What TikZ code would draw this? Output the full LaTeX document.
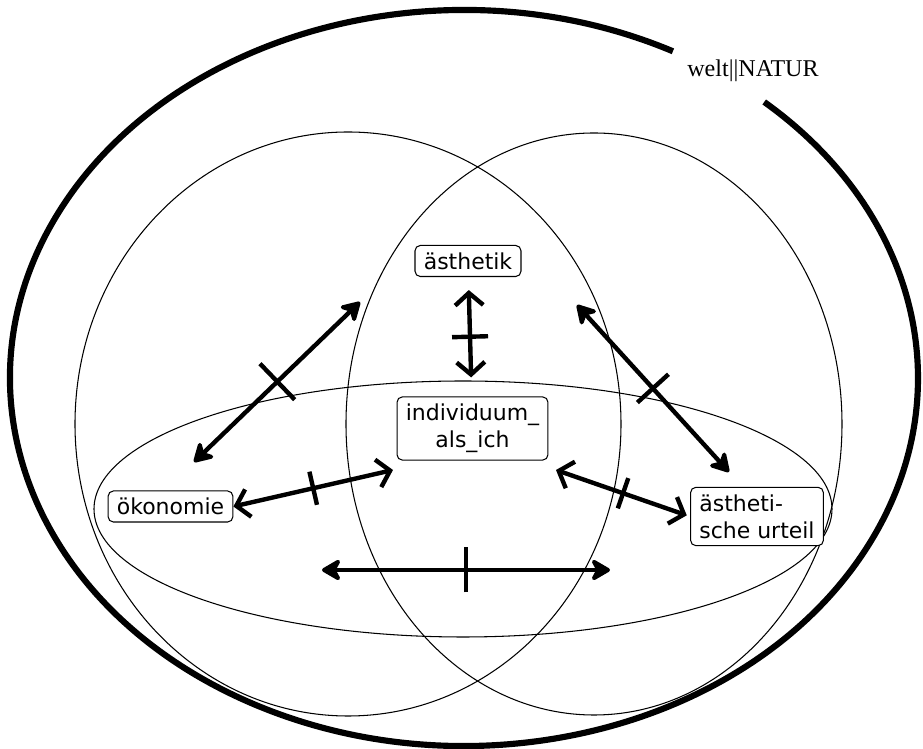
\documentclass[tikz,border=0pt]{standalone}
\usepackage{fontspec}
\setmainfont{DejaVu Sans}
\newfontfamily\weltfont{Liberation Serif}
\usetikzlibrary{arrows.meta,decorations.markings}
\tikzset{
    box/.style={draw, rectangle, rounded corners=3pt, line width=0.6pt, fill=white,
        inner xsep=5pt, inner ysep=4pt, font=\fontsize{12.5}{15.5}\selectfont},
    ring/.style={line width=0.6pt},
    link/.style={line width=2.5pt, >={Stealth[length=13pt,width=15pt,inset=4pt,round]}},
    barb/.style={line width=2.5pt, >={Straight Barb[length=7pt,width=16pt]}},
    crossed/.style={postaction={decorate, decoration={markings,
        mark=at position 0.5 with {\draw[-,line width=2.5pt,shorten <=0pt,shorten >=0pt] (0,-#1) -- (0,#1);}}}},
    crossed/.default=0.4cm
}
\begin{document}
\begin{tikzpicture}
    \useasboundingbox (0,0) rectangle (18.46,14.98);
    \draw[line width=3.5pt] (9.28,7.42) ++(62.6:9.08 and 7.36)
        arc[start angle=62.6, end angle=408.6, x radius=9.08, y radius=7.36];
    \draw[ring] (6.96,6.5) ellipse [x radius=5.46, y radius=5.84];
    \draw[ring] (11.88,6.5) ellipse [x radius=4.96, y radius=5.82];
    \draw[ring] (9.26,4.8) ellipse [x radius=7.38, y radius=2.56];
    \node[font=\weltfont\fontsize{13.7}{16}\selectfont] (W) at (15.06,13.56){welt||NATUR};
    \node[box] (A) at (9.36,9.76){ästhetik};
    \node[box, align=center] (I) at (9.45,6.41){individuum\_\\als\_ich};
    \node[box] (O) at (3.41,4.85){ökonomie};
    \node[box, align=left] (U) at (15.14,4.65){ästheti-\\sche urteil};
    \coordinate (l1) at (7.2,8.94);
    \coordinate (l2) at (3.88,5.74);
    \coordinate (r1) at (11.54,8.88);
    \coordinate (r2) at (14.58,5.54);
    \coordinate (o1) at (7.86,5.58);
    \coordinate (u1) at (11.12,5.58);
    \coordinate (b1) at (6.44,3.58);
    \coordinate (b2) at (12.2,3.58);
    \draw[<->, barb, crossed=0.36cm, shorten <=0.26cm, shorten >=0.38cm] (A) -- (I);
    \draw[<->, link, crossed=0.5cm] (l1) -- (l2);
    \draw[<->, link, crossed=0.42cm] (r1) -- (r2);
    \draw[<->, barb, crossed=0.34cm] (O.east) -- (o1);
    \draw[<->, barb, crossed=0.32cm, shorten <=2pt] (U.west) -- (u1);
    \draw[<->, link, crossed=0.45cm] (b1) -- (b2);
\end{tikzpicture}
\end{document}
